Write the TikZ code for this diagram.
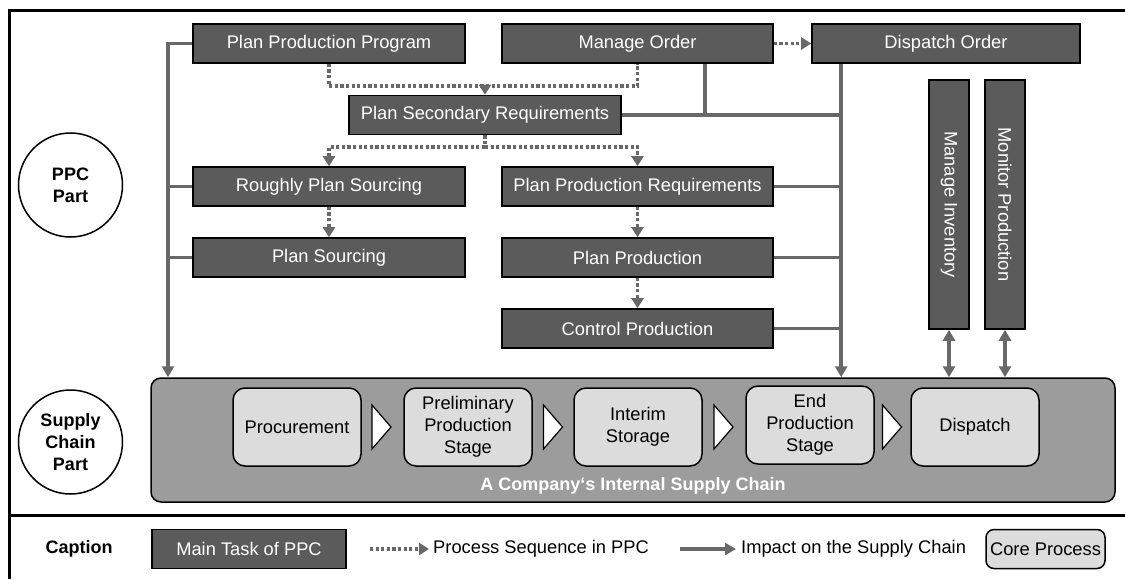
\documentclass[tikz,border=0pt]{standalone}
\usepackage{fontspec}
\setmainfont{Liberation Sans}
\usetikzlibrary{arrows.meta}
\definecolor{taskfill}{HTML}{5B5B5B}
\definecolor{conn}{HTML}{686868}
\definecolor{scfill}{HTML}{9C9C9C}
\definecolor{corefill}{HTML}{DCDCDC}
\begin{document}
\begin{tikzpicture}[x=1pt,y=-1pt,
  every node/.style={font=\fontsize{18.3}{22}\selectfont},
  task/.style={draw=black, line width=1.6pt, fill=taskfill, text=white, inner sep=0pt,
    minimum width=272pt, minimum height=39pt},
  vtask/.style={task, rotate=-90, minimum width=249pt, minimum height=40pt},
  core/.style={draw=black, line width=1.5pt, fill=corefill, rounded corners=12pt, inner sep=0pt,
    minimum width=128pt, minimum height=78pt, align=center},
  part/.style={draw=black, line width=1.5pt, circle, minimum size=104pt, inner sep=0pt, align=center,
    font=\fontsize{18}{22}\selectfont\bfseries},
  impact/.style={draw=conn, line width=3.5pt},
  seq/.style={draw=conn, line width=3.5pt, dash pattern=on 3.2pt off 2.4pt},
  imptip/.style={-{Triangle[length=11pt,width=12pt]}},
  seqtip/.style={-{Triangle[length=10pt,width=12pt]}},
  bothtip/.style={{Triangle[length=11pt,width=12pt]}-{Triangle[length=11pt,width=12pt]}},
  chev/.style={draw=black, line width=1.2pt, fill=white, line join=miter}
]
\useasboundingbox (0,0) rectangle (1125,579);
% frame
\draw[line width=3pt] (1125,10) -- (9,10) -- (9,579);
\draw[line width=3pt] (9,515) -- (1125,515);

% circles
\node[part] (ppcpart) at (70.5,185) {PPC\\Part};
\node[part] (scpart) at (70.5,442) {Supply\\Chain\\Part};
\node[font=\fontsize{18}{22}\selectfont\bfseries] (caption) at (79,549) {Caption};

% tasks
\node[task] (ppp) at (329,43.5) {Plan Production Program};
\node[task, minimum width=271pt] (mo) at (637.5,43.5) {Manage Order};
\node[task, minimum width=268pt] (do) at (946,43.5) {Dispatch Order};
\node[task] (psr) at (485,115) {Plan Secondary Requirements};
\node[task] (rps) at (329,186.5) {Roughly Plan Sourcing};
\node[task, minimum width=271pt] (pprq) at (637.5,186.5) {Plan Production Requirements};
\node[task] (ps) at (329,257.5) {Plan Sourcing};
\node[task, minimum width=271pt] (pp) at (637.5,257.5) {Plan Production};
\node[task, minimum width=271pt] (cp) at (637.5,328.5) {Control Production};
\node[vtask] (mi) at (949,204.5) {Manage Inventory};
\node[vtask] (mp) at (1005,204.5) {Monitor Production};

% supply chain
\node[draw=black, line width=1.5pt, fill=scfill, rounded corners=10pt, minimum width=964pt,
  minimum height=124pt, inner sep=0pt] (sc) at (633,440) {};
\node[text=white, font=\fontsize{18}{22}\selectfont\bfseries] (sclabel) at (633,486) {A Company‘s Internal Supply Chain};
\node[core] (proc) at (297,427) {Procurement};
\node[core] (prel) at (468,427) {Preliminary\\Production\\Stage};
\node[core] (inter) at (638,427) {Interim\\Storage};
\node[core] (endp) at (810,425) {End\\Production\\Stage};
\node[core] (disp) at (975,427) {Dispatch};
% chevrons
\foreach \c in {382,553.5,724,892.5}{
  \draw[chev] (\c-10,405) -- (\c+9,427) -- (\c-10,449) -- cycle;
}

% impact connectors (left)
\coordinate (LT) at (168,43.5);
\draw[impact, imptip] (ppp.west) -- (LT) -- (LT |- sc.north);
\draw[impact] (rps.west) -- (rps.west -| LT);
\draw[impact] (ps.west) -- (ps.west -| LT);
% impact connectors (right)
\coordinate (RT) at ([xshift=30pt]do.south west);
\draw[impact, imptip] (RT) -- (RT |- sc.north);
\draw[impact] (psr.east) -- (psr.east -| RT);
\coordinate (MX) at (705,0);
\draw[impact] (mo.south -| MX) -- (MX |- psr.east);
\draw[impact] (pprq.east) -- (pprq.east -| RT);
\draw[impact] (pp.east) -- (pp.east -| RT);
\draw[impact] (cp.east) -- (cp.east -| RT);
% double arrows
\draw[impact, bothtip] (mi.east) -- (mi.east |- sc.north);
\draw[impact, bothtip] (mp.east) -- (mp.east |- sc.north);

% process sequence
\coordinate (J1) at (485,86);
\draw[seq] (ppp.south) -- (ppp.south |- J1) -- (mo.south |- J1) -- (mo.south);
\draw[seq, seqtip] (J1) -- (psr.north);
\coordinate (J2) at (485,147);
\draw[seq] (psr.south) -- (J2);
\draw[seq, seqtip] (J2) -| (rps.north);
\draw[seq, seqtip] (J2) -| (pprq.north);
\draw[seq, seqtip] (rps.south) -- (ps.north);
\draw[seq, seqtip] (pprq.south) -- (pp.north);
\draw[seq, seqtip] (pp.south) -- (cp.north);
\draw[seq, seqtip] (mo.east) -- (do.west);

% legend
\node[task, minimum width=194pt] (lgtask) at (249,549) {Main Task of PPC};
\node[anchor=west, inner sep=0pt] (lgseq) at (433,549) {Process Sequence in PPC};
\coordinate (lsa) at (370,549);
\draw[seq, seqtip] (lsa) -- ([xshift=-4pt]lgseq.west);
\node[anchor=west, inner sep=0pt] (lgimp) at (741,549) {Impact on the Supply Chain};
\coordinate (lia) at (680,549);
\draw[impact, imptip] (lia) -- ([xshift=-5pt]lgimp.west);
\node[core, minimum width=119pt, minimum height=39pt, rounded corners=8pt] (lgcore) at (1045.5,549) {Core Process};
\end{tikzpicture}
\end{document}
